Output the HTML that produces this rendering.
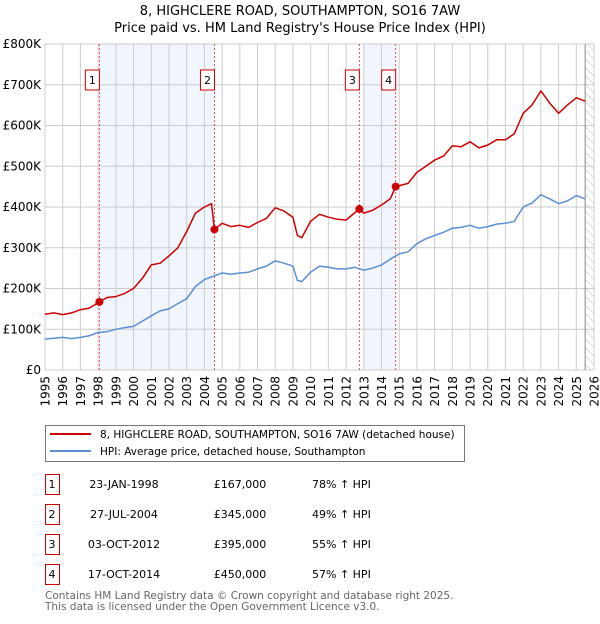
<!DOCTYPE html>
<html><head><meta charset="utf-8"><style>
body{margin:0;background:#fff;font-family:"DejaVu Sans","Liberation Sans",sans-serif;}
svg text{font-family:"DejaVu Sans","Liberation Sans",sans-serif;}
</style></head><body>
<svg id="c" width="600" height="620" xmlns="http://www.w3.org/2000/svg">
<defs><pattern id="hatch" width="6" height="6" patternUnits="userSpaceOnUse" patternTransform="rotate(-45)"><line x1="0" y1="0" x2="0" y2="6" stroke="#bbb" stroke-width="1"/></pattern></defs>
<text x="300" y="15" text-anchor="middle" font-size="13" fill="#000">8, HIGHCLERE ROAD, SOUTHAMPTON, SO16 7AW</text>
<text x="300" y="32" text-anchor="middle" font-size="13" fill="#000">Price paid vs. HM Land Registry's House Price Index (HPI)</text>
<g id="plot"></g>
<g>
<rect x="45.5" y="425.5" width="419" height="36" fill="#fff" stroke="#777"/>
<line x1="50" y1="434" x2="91" y2="434" stroke="#cc0000" stroke-width="2"/>
<text x="100" y="438" font-size="10.5">8, HIGHCLERE ROAD, SOUTHAMPTON, SO16 7AW (detached house)</text>
<line x1="50" y1="451" x2="91" y2="451" stroke="#5b8fd4" stroke-width="2"/>
<text x="100" y="455" font-size="10.5">HPI: Average price, detached house, Southampton</text>
</g>
<g id="table" font-size="11"></g>
<text x="45" y="599" font-size="10.5" fill="#666">Contains HM Land Registry data © Crown copyright and database right 2025.</text>
<text x="45" y="610" font-size="10.5" fill="#666">This data is licensed under the Open Government Licence v3.0.</text>
</svg>
<script>
const hpiYears=[1995,1995.5,1996,1996.5,1997,1997.5,1998,1998.5,1999,1999.5,2000,2000.5,2001,2001.5,2002,2002.5,2003,2003.5,2004,2004.5,2005,2005.5,2006,2006.5,2007,2007.5,2008,2008.5,2009,2009.25,2009.5,2010,2010.5,2011,2011.5,2012,2012.5,2013,2013.5,2014,2014.5,2015,2015.5,2016,2016.5,2017,2017.5,2018,2018.5,2019,2019.5,2020,2020.5,2021,2021.5,2022,2022.5,2023,2023.5,2024,2024.5,2025,2025.5];
const hpiValues=[76,78,80,77,80,84,92,94,100,104,107,120,133,145,150,163,175,205,222,230,238,235,238,240,248,255,268,262,255,220,217,240,255,252,248,248,252,245,250,258,272,285,290,310,322,330,338,348,350,355,348,352,358,360,365,400,410,430,420,408,415,428,420];
const propYears=[1995,1995.5,1996,1996.5,1997,1997.5,1998.07,1998.5,1999,1999.5,2000,2000.5,2001,2001.5,2002,2002.5,2003,2003.5,2004,2004.4,2004.57,2005,2005.5,2006,2006.5,2007,2007.5,2008,2008.5,2009,2009.25,2009.5,2010,2010.5,2011,2011.5,2012,2012.75,2013,2013.5,2014,2014.5,2014.8,2015.5,2016,2016.5,2017,2017.5,2018,2018.5,2019,2019.5,2020,2020.5,2021,2021.5,2022,2022.5,2023,2023.5,2024,2024.5,2025,2025.5];
const propValues=[137,140,136,140,148,152,167,178,180,188,200,225,258,262,280,300,340,385,400,408,345,360,352,355,350,362,372,398,390,375,330,325,365,382,375,370,368,395,385,392,405,420,450,458,485,500,515,525,550,548,560,545,552,565,565,580,630,650,685,655,630,650,668,660];
const saleLabels=["1","2","3","4"];
const saleYears=[1998.07,2004.57,2012.75,2014.8];
const saleValues=[167,345,395,450];
const saleDates=["23-JAN-1998","27-JUL-2004","03-OCT-2012","17-OCT-2014"];
const salePrices=["£167,000","£345,000","£395,000","£450,000"];
const saleHpi=["78% ↑ HPI","49% ↑ HPI","55% ↑ HPI","57% ↑ HPI"];
const yTicks=[0,100,200,300,400,500,600,700,800];
const yTickLabels=["£0","£100K","£200K","£300K","£400K","£500K","£600K","£700K","£800K"];
const xTicks=[1995,1996,1997,1998,1999,2000,2001,2002,2003,2004,2005,2006,2007,2008,2009,2010,2011,2012,2013,2014,2015,2016,2017,2018,2019,2020,2021,2022,2023,2024,2025,2026];

const NS="http://www.w3.org/2000/svg";
const X0=45,X1=594,Y0=370,Y1=44;
const x=t=>X0+(t-1995)/(2026-1995)*(X1-X0);
const y=v=>Y0-v/800*(Y0-Y1);
const g=document.getElementById('plot');
function el(tag,attrs,parent){const e=document.createElementNS(NS,tag);for(const k in attrs)e.setAttribute(k,attrs[k]);(parent||g).appendChild(e);return e;}

let e=el('rect',{x:X0,y:Y1,width:X1-X0,height:Y0-Y1,fill:'#fff'});


e=el('rect',{x:x(saleYears[0]),y:Y1,width:x(saleYears[1])-x(saleYears[0]),height:Y0-Y1,fill:'#eef3fc',opacity:0.8});


e=el('rect',{x:x(2013.0),y:Y1,width:x(saleYears[3])-x(2013.0),height:Y0-Y1,fill:'#eef3fc',opacity:0.8});


e=el('rect',{x:x(2025.5),y:Y1,width:X1-x(2025.5),height:Y0-Y1,fill:'url(#hatch)'});


yTicks.forEach((v,i)=>{
  let l=el('line',{x1:X0,x2:X1,y1:y(v),y2:y(v),stroke:'#ccc','stroke-width':1});
  
  
  let t=el('text',{x:X0-4,y:y(v)+4,'text-anchor':'end','font-size':12});
  t.textContent=yTickLabels[i];
  
  
});
xTicks.forEach(yr=>{
  let l=el('line',{x1:x(yr),x2:x(yr),y1:Y1,y2:Y0,stroke:'#ccc','stroke-width':1});
  
  
  let t=el('text',{transform:`translate(${x(yr)+4.5},${Y0+6}) rotate(-90)`,'text-anchor':'end','font-size':12});
  t.textContent=yr;
  
  
});
e=el('line',{x1:x(2025.5),x2:x(2025.5),y1:Y1,y2:Y0,stroke:'#888','stroke-width':1});


saleYears.forEach((yr,i)=>{
  let l=el('line',{x1:x(yr),x2:x(yr),y1:Y1,y2:Y0,stroke:'#e05050','stroke-width':1,'stroke-dasharray':'2,2'});
  
  
  let r=el('rect',{x:x(yr)-14,y:70,width:14,height:20,fill:'#fff',stroke:'#cc0000'});
  
  
  let t=el('text',{x:x(yr)-7,y:84,'text-anchor':'middle','font-size':11});
  t.textContent=saleLabels[i];
  
  
});
const pts=(xs,vs)=>xs.map((t,i)=>x(t).toFixed(1)+','+y(vs[i]).toFixed(1)).join(' ');
e=el('polyline',{points:pts(hpiYears,hpiValues),fill:'none',stroke:'#5b8fd4','stroke-width':1.5,'stroke-linejoin':'round'});


e=el('polyline',{points:pts(propYears,propValues),fill:'none',stroke:'#cc0000','stroke-width':1.5,'stroke-linejoin':'round'});


saleYears.forEach((yr,i)=>{
  let c=el('circle',{cx:x(yr),cy:y(saleValues[i]),r:4,fill:'#cc0000'});
  
  
});
const tb=document.getElementById('table');
saleLabels.forEach((lab,i)=>{
  const yy=482+i*30;
  let r=el('rect',{x:45.5,y:yy-7.5,width:14,height:20,fill:'#fff',stroke:'#cc0000'},tb);
  
  
  const cells=[[52,lab,'middle'],[124,saleDates[i],'middle'],[240,salePrices[i],'middle'],[312,saleHpi[i],'start']];
  cells.forEach(([cx,txt,anc],j)=>{
    let t=el('text',{x:cx,y:yy+6,'text-anchor':anc},tb);
    t.textContent=txt;
    
    
  });
});
</script>
</body></html>
